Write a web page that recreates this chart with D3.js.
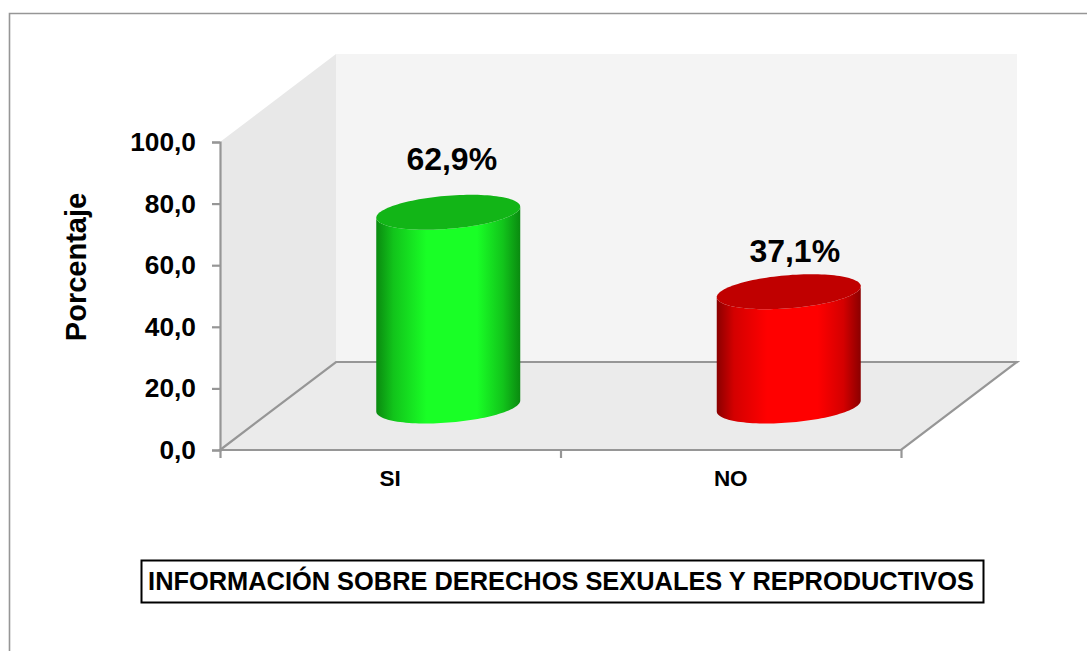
<!DOCTYPE html>
<html><head><meta charset="utf-8">
<script src="https://cdn.jsdelivr.net/npm/d3@7"></script>
<style>html,body{margin:0;padding:0;background:#fff;overflow:hidden}svg{display:block}text{font-family:"Liberation Sans",Arial,sans-serif;font-weight:bold;fill:#000}</style>
</head><body><svg id="c" width="1087" height="651"></svg>
<script>
const categories = ["SI","NO"];
const values = [62.9,37.1];
const valueLabels = ["62,9%","37,1%"];
const yTicks = [0,20,40,60,80,100];
const baseColors = ["#19ff26","#ff0000"];
const edgeColors = ["#0a8a10","#8a0000"];
const midColors = ["#12c41b","#d40000"];
const topColors = ["#12b517","#c00000"];
const yTitle = "Porcentaje";
const chartTitle = "INFORMACIÓN SOBRE DERECHOS SEXUALES Y REPRODUCTIVOS";

const svg = d3.select("#c");
const W=1087,H=651;
svg.append("path").attr("d",`M9.5,${H}V13.5H${W}`).attr("fill","none").attr("stroke","#969696").attr("stroke-width",1.6);

const x0=220,x1=901,y0=450,y1=142,dx=116,dy=88;
const x = d3.scaleBand().domain(categories).range([x0,x1]);
const y = d3.scaleLinear().domain([0,100]).range([y0,y1]);
const poly = p => "M"+p.map(q=>q.join(",")).join("L")+"Z";
svg.append("path").attr("d",poly([[x0+dx,y1-dy],[1017,y1-dy],[1017,y0-dy],[x0+dx,y0-dy]])).attr("fill","#f4f4f4");
svg.append("path").attr("d",poly([[x0,y1],[x0+dx,y1-dy],[x0+dx,y0-dy],[x0,y0]])).attr("fill","#e8e8e8");
svg.append("path").attr("d",poly([[x0,y0],[x1,y0],[1017,y0-dy],[x0+dx,y0-dy]])).attr("fill","#ebebeb").attr("stroke","#969696").attr("stroke-width",2.2);

const gy = svg.append("g").attr("transform",`translate(${x0},0)`)
  .call(d3.axisLeft(y).tickValues(yTicks).tickSize(8).tickPadding(16).tickFormat(d=>d3.format(".1f")(d).replace(".",",")));
gy.selectAll("path,line").attr("stroke","#969696").attr("stroke-width",2.2);
gy.selectAll("text").attr("font-size",26.3).attr("font-family",'"Liberation Sans"').attr("font-weight","bold").attr("fill","#000");
const gx = svg.append("g").attr("transform",`translate(0,${y0})`)
  .call(d3.axisBottom(d3.scaleLinear().domain([0,2]).range([x0,x1])).tickValues([0,1,2]).tickSize(8).tickFormat(""));
gx.selectAll("path,line").attr("stroke","#969696").attr("stroke-width",2.2);
gx.select(".domain").remove();
svg.selectAll(".catLabel").data(categories).join("text").attr("class","catLabel")
  .attr("x",d=>x(d)+x.bandwidth()/2).attr("y",486).attr("text-anchor","middle").attr("font-size",22.5).text(d=>d);

const defs = svg.append("defs");
const a=72, b=16.6, k=5.5;
const ell = (cx,cy,t)=>[cx+a*Math.cos(t), cy-k*Math.cos(t)+b*Math.sin(t)];
const steps = d3.range(0,61).map(i=>i/60);
const labelShift = [3.5,6], labelGap = [42,30];
categories.forEach((c,i)=>{
  const cx = x(c)+x.bandwidth()/2+dx/2;
  const base = y0-dy/2;
  const top = base-(y(0)-y(values[i]));
  const g = defs.append("linearGradient").attr("id","g"+i);
  [[0,edgeColors[i]],[.12,midColors[i]],[.35,baseColors[i]],[.7,baseColors[i]],[.88,midColors[i]],[1,edgeColors[i]]]
    .forEach(s=>g.append("stop").attr("offset",s[0]).attr("stop-color",s[1]));
  const pts=[];
  steps.forEach(s=>pts.push(ell(cx,base,Math.PI*s)));
  steps.forEach(s=>pts.push(ell(cx,top,Math.PI*(1-s))));
  svg.append("path").attr("d",d3.line()(pts)+"Z").attr("fill",`url(#g${i})`);
  const tp=steps.concat(steps.map(s=>1+s)).map(s=>ell(cx,top,Math.PI*s));
  svg.append("path").attr("d",d3.line()(tp)+"Z").attr("fill",topColors[i]);
  svg.append("text").attr("x",cx+labelShift[i]).attr("y",top-labelGap[i]).attr("text-anchor","middle").attr("font-size",32).text(valueLabels[i]);
});

svg.append("text").attr("transform","translate(86,267) rotate(-90)").attr("text-anchor","middle").attr("font-size",29).text(yTitle);
svg.append("rect").attr("x",141.5).attr("y",560.5).attr("width",842).attr("height",42).attr("fill","#fff").attr("stroke","#000").attr("stroke-width",2);
svg.append("text").attr("x",561).attr("y",590).attr("text-anchor","middle").attr("font-size",25.4).text(chartTitle);
</script></body></html>
